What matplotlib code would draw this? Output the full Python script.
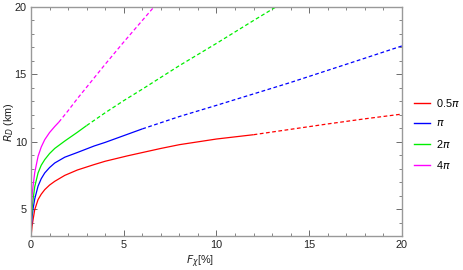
import matplotlib
matplotlib.use("Agg")
import matplotlib.pyplot as plt
from matplotlib.ticker import MultipleLocator
from matplotlib.lines import Line2D

# ---------------------------- data ----------------------------
# (F_chi [%], R_D [km]); solid part then dashed part

red_solid_f = [0, 0.02, 0.06, 0.11, 0.2, 0.38, 0.55, 0.74, 1.0, 1.28, 1.82, 2.5, 3.4, 4.0, 5.2, 7.0, 8.0, 10.0, 12.0]
red_solid_r = [3.0, 3.2, 3.75, 4.2, 4.95, 5.7, 6.1, 6.44, 6.78, 7.06, 7.5, 7.9, 8.3, 8.55, 8.95, 9.5, 9.78, 10.2, 10.52]
red_dash_f = [12.0, 14.0, 16.0, 18.0, 20.0]
red_dash_r = [10.52, 10.92, 11.32, 11.7, 12.05]

blue_solid_f = [0, 0.02, 0.06, 0.11, 0.2, 0.38, 0.55, 0.74, 1.0, 1.28, 1.82, 2.5, 3.4, 4.0, 5.0, 6.0]
blue_solid_r = [3.0, 3.7, 4.45, 5.0, 5.75, 6.7, 7.25, 7.68, 8.08, 8.42, 8.85, 9.2, 9.68, 9.95, 10.45, 10.95]
blue_dash_f = [6.0, 8.0, 10.0, 12.0, 14.0, 16.0, 18.0, 20.0]
blue_dash_r = [10.95, 11.87, 12.7, 13.55, 14.4, 15.3, 16.2, 17.11]

green_solid_f = [0, 0.02, 0.06, 0.11, 0.2, 0.38, 0.55, 0.74, 1.0, 1.28, 1.82, 2.5, 3.0]
green_solid_r = [3.0, 4.2, 5.05, 5.7, 6.65, 7.68, 8.25, 8.67, 9.12, 9.5, 10.05, 10.7, 11.2]
green_dash_f = [3.0, 4.0, 5.0, 6.0, 8.0, 10.0, 12.0, 13.2, 14.0]
green_dash_r = [11.2, 12.15, 13.05, 13.9, 15.65, 17.3, 19.0, 20.0, 20.65]

mag_solid_f = [0, 0.02, 0.06, 0.11, 0.2, 0.38, 0.55, 0.74, 1.0, 1.28, 1.5]
mag_solid_r = [3.0, 5.0, 6.0, 6.7, 7.7, 8.91, 9.6, 10.15, 10.68, 11.13, 11.45]
mag_dash_f = [1.5, 2.0, 2.5, 3.0, 4.0, 5.0, 6.0, 7.0]
mag_dash_r = [11.45, 12.3, 13.2, 14.05, 15.75, 17.4, 19.0, 20.6]

labels = [r"0.5$\pi$", r"$\pi$", r"2$\pi$", r"4$\pi$"]
colors = ["#ff0000", "#0000ff", "#00ee00", "#ff00ff"]

series = [
    (red_solid_f, red_solid_r, red_dash_f, red_dash_r),
    (blue_solid_f, blue_solid_r, blue_dash_f, blue_dash_r),
    (green_solid_f, green_solid_r, green_dash_f, green_dash_r),
    (mag_solid_f, mag_solid_r, mag_dash_f, mag_dash_r),
]

# ---------------------------- plot ----------------------------
plt.rcParams["font.family"] = ["Liberation Sans", "DejaVu Sans"]
plt.rcParams["mathtext.fontset"] = "dejavusans"

fig = plt.figure(figsize=(4.64, 2.70), dpi=100)
ax = fig.add_axes([31 / 464, 1 - 236 / 270, (402 - 31) / 464, (236 - 7) / 270])

for (sf, sr, df, dr), c in zip(series, colors):
    ax.plot(sf, sr, color=c, lw=0.9, solid_capstyle="butt")
    ax.plot(df, dr, color=c, lw=0.9, linestyle=(0, (3, 2)))

ax.set_xlim(0, 20)
ax.set_ylim(3, 20)
ax.xaxis.set_major_locator(MultipleLocator(5))
ax.xaxis.set_minor_locator(MultipleLocator(1))
ax.yaxis.set_major_locator(MultipleLocator(5))
ax.yaxis.set_minor_locator(MultipleLocator(1))

fs = 7.8
frame_col = "#999999"
for s in ax.spines.values():
    s.set_color(frame_col)
    s.set_linewidth(1.0)
ax.tick_params(which="both", direction="in", top=True, right=True,
               color="#555555", labelsize=fs, labelcolor="#222222", pad=3)
ax.tick_params(which="major", length=4, width=0.6)
ax.tick_params(which="minor", length=2, width=0.5)

ax.set_xlabel(r"$F_{\chi}$[%]", fontsize=fs, color="#222222")
ax.set_ylabel(r"$R_D$ (km)", fontsize=fs, color="#222222")
# anchors: top edge of x label, right edge of y label (pixels -> axes fraction)
ax.xaxis.set_label_coords((200 - 31) / 371, -(254 - 236) / 229)
ax.yaxis.set_label_coords(-(31 - 16) / 371, (236 - 122) / 229)

handles = [Line2D([], [], color=c, lw=1.0) for c in colors]
fig.legend(handles, labels, loc="center left", bbox_to_anchor=(414 / 464, 1 - 134 / 270),
           frameon=False, fontsize=fs, handlelength=1.5, handletextpad=0.5,
           labelspacing=0.85, borderaxespad=0, borderpad=0)

fig.savefig("out.png", dpi=100)
